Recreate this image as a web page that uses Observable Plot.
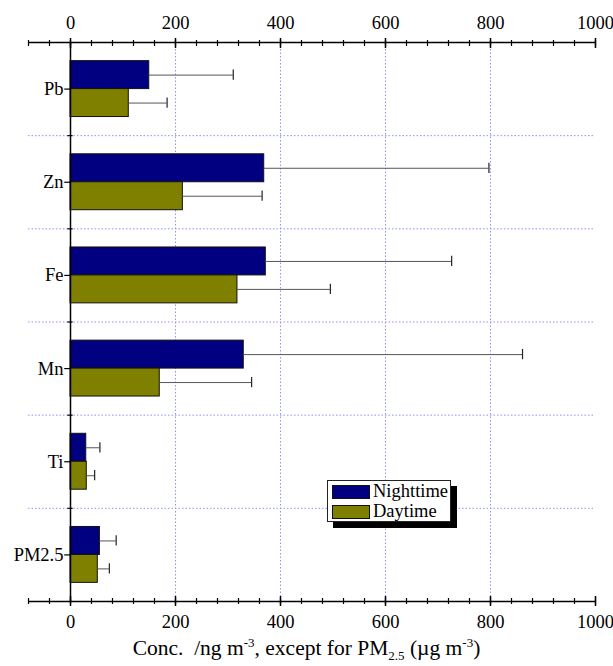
<!DOCTYPE html>
<html>
<head>
<meta charset="utf-8">
<script src="https://cdn.jsdelivr.net/npm/d3@7"></script>
<script src="https://cdn.jsdelivr.net/npm/@observablehq/plot@0.6"></script>
<style>
  body { margin: 0; background: #fff; font-family: "Liberation Serif", serif; }
  #wrap { position: relative; width: 613px; height: 666px; }
  #chart svg { display: block; font-family: "Liberation Serif", serif !important; }
  #chart svg text { font-family: "Liberation Serif", serif; }
  #legend { position: absolute; left: 327px; top: 480px; width: 122px; height: 40px;
    border: 1px solid #222; background: #fff; box-shadow: 6px 6px 0 #000; font-size: 18.5px; }
  .row { display: flex; align-items: center; height: 19px; margin-top: 1px; }
  .sw { width: 36px; height: 12px; border: 1px solid #111; margin-left: 4px; margin-right: 3px; flex: none; }
  #xtitle { position: absolute; left: 0; width: 613px; top: 635px; text-align: center; font-size: 21.5px; white-space: nowrap; }
  #xtitle sup, #xtitle sub { font-size: 13px; }
</style>
</head>
<body>
<div id="wrap">
  <div id="chart"></div>
  <div id="legend"></div>
  <div id="xtitle">Conc.&nbsp; /ng m<sup>-3</sup>, except for PM<sub>2.5</sub> (µg m<sup>-3</sup>)</div>
</div>
<script>
const categories = ["Pb", "Zn", "Fe", "Mn", "Ti", "PM2.5"];
const seriesNames = ["Nighttime", "Daytime"];
const seriesColors = ["#000080", "#808000"];
const nighttime = [150, 369, 372, 330, 30, 56];
const nighttimeErr = [160, 428, 354, 531, 26, 31];
const daytime = [111, 214, 318, 170, 31, 52];
const daytimeErr = [73, 151, 177, 175, 15, 22];
const majorTicks = [0, 200, 400, 600, 800, 1000];
const gridTicks = [200, 400, 600, 800];

const idx = d3.range(categories.length);
const rows = idx.flatMap(i => [
  {cat: categories[i], i, series: seriesNames[0], value: nighttime[i], err: nighttimeErr[i], side: -1},
  {cat: categories[i], i, series: seriesNames[1], value: daytime[i], err: daytimeErr[i], side: 1}
]);
const BAR = 0.3;
const yTop = d => d.side < 0 ? d.i - BAR : d.i;
const yBot = d => d.side < 0 ? d.i : d.i + BAR;
const yMid = d => d.i + d.side * BAR / 2;
const boundaries = idx.slice(0, -1).map(i => i + 0.5);
const minorTicks = d3.range(-80, 1001, 40);
const gridStyle = {stroke: "#9090ff", strokeDasharray: "1.5,2", strokeWidth: 1};
const fmt = d => String(d);
const FS = 18.5;

const chart = Plot.plot({
  width: 613, height: 640,
  marginLeft: 28, marginRight: 18, marginTop: 42, marginBottom: 39,
  style: {fontFamily: "'Liberation Serif', serif", fontSize: FS + "px", background: "white", overflow: "visible", color: "#000"},
  x: {domain: [-80, 1000], label: null},
  y: {domain: [-0.5, 5.5], reverse: true, axis: null},
  color: {domain: seriesNames, range: seriesColors},
  marks: [
    Plot.ruleX(gridTicks, gridStyle),
    Plot.ruleY(boundaries, gridStyle),
    Plot.rectX(rows, {x1: 0, x2: "value", y1: yTop, y2: yBot, fill: "series", stroke: "#111", strokeWidth: 1}),
    Plot.ruleY(rows, {y: yMid, x1: "value", x2: d => d.value + d.err, stroke: "#555", strokeWidth: 1}),
    Plot.ruleX(rows, {x: d => d.value + d.err, y1: d => yMid(d) - 0.055, y2: d => yMid(d) + 0.055, stroke: "#222", strokeWidth: 1.2}),
    Plot.ruleX([0], {stroke: "#000", strokeWidth: 1.5}),
    Plot.ruleY(idx, {y: d => d, x1: -11, x2: 0, stroke: "#000", strokeWidth: 1.2}),
    Plot.ruleY(boundaries, {y: d => d, x1: -5, x2: 5, stroke: "#000", strokeWidth: 1.2}),
    Plot.text(idx, {y: d => d, x: 0, text: d => categories[d], textAnchor: "end", dx: -7, fontSize: FS}),
    Plot.ruleY([-0.5, 5.5], {stroke: "#000", strokeWidth: 1.5}),
    Plot.axisX({anchor: "top", ticks: minorTicks, tickSize: 6, dy: 3, tickFormat: () => "", label: null, strokeWidth: 1.2}),
    Plot.axisX({anchor: "bottom", ticks: minorTicks, tickSize: 6, dy: -3, tickFormat: () => "", label: null, strokeWidth: 1.2}),
    Plot.axisX({anchor: "top", ticks: majorTicks, tickSize: 10, dy: 5, tickFormat: () => "", label: null, strokeWidth: 1.5}),
    Plot.axisX({anchor: "bottom", ticks: majorTicks, tickSize: 10, dy: -5, tickFormat: () => "", label: null, strokeWidth: 1.5}),
    Plot.axisX({anchor: "top", ticks: majorTicks, tickSize: 0, tickPadding: 14, tickFormat: fmt, label: null, fontSize: FS}),
    Plot.axisX({anchor: "bottom", ticks: majorTicks, tickSize: 0, tickPadding: 13, tickFormat: fmt, label: null, fontSize: FS})
  ]
});
document.getElementById("chart").appendChild(chart);

const legend = document.getElementById("legend");
seriesNames.forEach((name, k) => {
  const row = document.createElement("div");
  row.className = "row";
  const sw = document.createElement("div");
  sw.className = "sw";
  sw.style.background = seriesColors[k];
  const label = document.createElement("span");
  label.textContent = name;
  row.appendChild(sw);
  row.appendChild(label);
  legend.appendChild(row);
});
</script>
</body>
</html>
